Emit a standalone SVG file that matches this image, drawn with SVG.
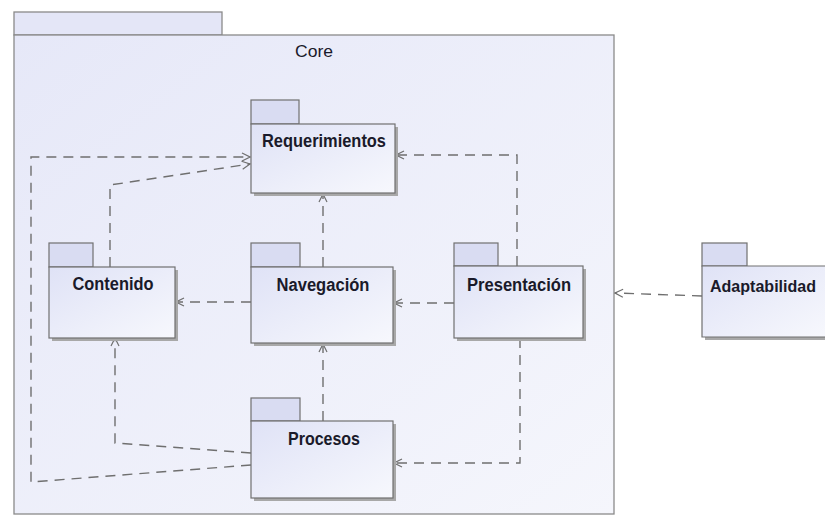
<svg xmlns="http://www.w3.org/2000/svg" width="825" height="521" viewBox="0 0 825 521">
<style>
.frame{stroke:#8a8a8a;stroke-width:1.3}
.tab{fill:#d9dcf2;stroke:#707070;stroke-width:1.2}
.body{fill:url(#pk);stroke:#707070;stroke-width:1.2}
.shadow{fill:#a8a8a8}
.lbl{font-family:"Liberation Sans",Arial,sans-serif;font-weight:bold;font-size:18px;fill:#1a1a2a}
.dep{fill:none;stroke:#6f6f6f;stroke-width:1.4;stroke-dasharray:10,7;marker-end:url(#arr)}
</style>
<defs>
<linearGradient id="pk" x1="0" y1="0" x2="1" y2="1">
<stop offset="0" stop-color="#dfe2f6"/>
<stop offset="1" stop-color="#f7f8fd"/>
</linearGradient>
<linearGradient id="core" x1="0" y1="0" x2="1" y2="1">
<stop offset="0" stop-color="#e6e8f8"/>
<stop offset="1" stop-color="#f5f6fc"/>
</linearGradient>
<marker id="arr" markerWidth="10" markerHeight="10" refX="9" refY="5" orient="auto" markerUnits="userSpaceOnUse">
<path d="M1,1 L9,5 L1,9" fill="none" stroke="#6f6f6f" stroke-width="1.2"/>
</marker>
</defs>
<rect width="825" height="521" fill="#ffffff"/>
<g id="core">
<rect x="14" y="12" width="208" height="23" fill="#e4e6f7" class="frame"/>
<rect x="14" y="35" width="600" height="479" fill="url(#core)" class="frame"/>
<text x="314" y="57" text-anchor="middle" font-family="'Liberation Sans',Arial,sans-serif" font-size="17" fill="#1a1a2a" textLength="38" lengthAdjust="spacingAndGlyphs">Core</text>
</g>
<g id="connectors">
<path class="dep" d="M517,266 L517,155 L396,155"/>
<path class="dep" d="M251,465 L31,482 L31,157 L250,157"/>
<path class="dep" d="M110,267 L110,185 L250,164"/>
<path class="dep" d="M323,267 L323,194"/>
<path class="dep" d="M251,302 L176,302"/>
<path class="dep" d="M454,303 L394,303"/>
<path class="dep" d="M323,421 L323,344"/>
<path class="dep" d="M251,453 L115,443 L115,338"/>
<path class="dep" d="M520,338 L520,463 L394,463"/>
<path class="dep" d="M702,296 L615,293"/>
</g>
<g id="requerimientos">
<rect x="254" y="127" width="144" height="69" class="shadow"/>
<rect x="251" y="100" width="48" height="24" class="tab"/>
<rect x="251" y="124" width="144" height="69" class="body"/>
<text x="324" y="147" text-anchor="middle" class="lbl" textLength="124" lengthAdjust="spacingAndGlyphs">Requerimientos</text>
</g>
<g id="contenido">
<rect x="52" y="270" width="126" height="71" class="shadow"/>
<rect x="49" y="243" width="44" height="24" class="tab"/>
<rect x="49" y="267" width="126" height="71" class="body"/>
<text x="113" y="290" text-anchor="middle" class="lbl" textLength="81" lengthAdjust="spacingAndGlyphs">Contenido</text>
</g>
<g id="navegacion">
<rect x="254" y="270" width="142" height="76" class="shadow"/>
<rect x="251" y="243" width="49" height="24" class="tab"/>
<rect x="251" y="267" width="142" height="76" class="body"/>
<text x="323" y="291" text-anchor="middle" class="lbl" textLength="93" lengthAdjust="spacingAndGlyphs">Navegación</text>
</g>
<g id="presentacion">
<rect x="457" y="269" width="129" height="72" class="shadow"/>
<rect x="454" y="243" width="44" height="23" class="tab"/>
<rect x="454" y="266" width="129" height="72" class="body"/>
<text x="519" y="291" text-anchor="middle" class="lbl" textLength="104" lengthAdjust="spacingAndGlyphs">Presentación</text>
</g>
<g id="procesos">
<rect x="254" y="424" width="142" height="77" class="shadow"/>
<rect x="251" y="398" width="49" height="23" class="tab"/>
<rect x="251" y="421" width="142" height="77" class="body"/>
<text x="324" y="445" text-anchor="middle" class="lbl" textLength="72" lengthAdjust="spacingAndGlyphs">Procesos</text>
</g>
<g id="adaptabilidad">
<rect x="705" y="269" width="120" height="71" class="shadow"/>
<rect x="702" y="243" width="45" height="23" class="tab"/>
<path d="M825,266 L702,266 L702,337 L825,337" class="body"/>
<text x="710" y="292" class="lbl" font-size="16" style="font-size:16px" textLength="106" lengthAdjust="spacingAndGlyphs">Adaptabilidad</text>
</g>
</svg>
